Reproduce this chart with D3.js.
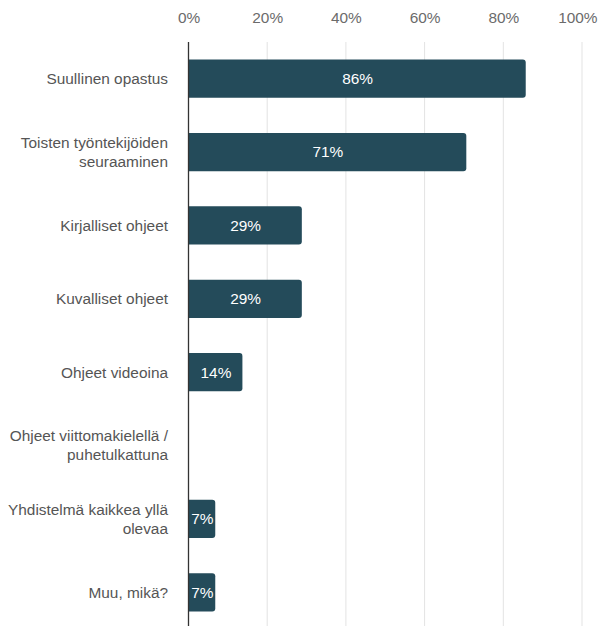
<!DOCTYPE html>
<html><head><meta charset="utf-8">
<script src="https://cdn.jsdelivr.net/npm/d3@7"></script>
<style>
html,body{margin:0;padding:0;background:#fff;}
svg{display:block;font-family:"Liberation Sans",Arial,sans-serif;}
</style></head>
<body>
<svg id="c" width="599" height="626"></svg>
<script>
const categories = ["Suullinen opastus","Toisten työntekijöiden seuraaminen","Kirjalliset ohjeet","Kuvalliset ohjeet","Ohjeet videoina","Ohjeet viittomakielellä / puhetulkattuna","Yhdistelmä kaikkea yllä olevaa","Muu, mikä?"];
const values = [85.7, 70.6, 28.8, 28.8, 13.7, 0, 6.8, 6.8];
const labels = ["86%","71%","29%","29%","14%","","7%","7%"];
const ticks = [0,20,40,60,80,100];

const FS = 15.4;
const W = 599;
const svg = d3.select("#c");
const x = d3.scaleLinear().domain([0,100]).range([188.5,582]);
const y = d3.scaleBand().domain(categories).range([42,629]).paddingInner(0.48).paddingOuter(0.24);

// gridlines
svg.append("g").selectAll("line").data(ticks.slice(1)).join("line")
  .attr("x1",d=>x(d)).attr("x2",d=>x(d)).attr("y1",42).attr("y2",626)
  .attr("stroke","#e3e3e3").attr("stroke-width",1);

// top tick labels
const ax = svg.append("g").attr("transform","translate(0,22.5)")
  .call(d3.axisTop(x).tickValues(ticks).tickFormat(d=>d+"%").tickSize(0).tickPadding(0));
ax.select(".domain").remove();
ax.selectAll("text").attr("font-size",FS).attr("fill","#6b6b6b").attr("font-family","Liberation Sans, Arial, sans-serif");
// keep labels inside the page
ax.selectAll(".tick").each(function(d){
  const t = d3.select(this).select("text");
  const half = t.node().getComputedTextLength()/2;
  const over = x(d)+half-(W-2);
  if (over>0) t.attr("x",-over);
});

// bars with rounded right corners
const r = 3;
function barPath(x0,x1,y0,h){
  const w = x1-x0;
  if (w<=0) return "";
  const rr = Math.min(r,w/2,h/2);
  return `M${x0},${y0}H${x1-rr}Q${x1},${y0} ${x1},${y0+rr}V${y0+h-rr}Q${x1},${y0+h} ${x1-rr},${y0+h}H${x0}Z`;
}
const g = svg.append("g");
g.selectAll("path").data(categories).join("path")
  .attr("d",(d,i)=>barPath(x(0)+0.5,x(values[i]),y(d),y.bandwidth()))
  .attr("fill","#244b5a");

g.selectAll("text").data(categories).join("text")
  .attr("x",(d,i)=>(x(0)+x(values[i]))/2+0.5)
  .attr("y",d=>y(d)+y.bandwidth()/2)
  .attr("dy","0.35em").attr("text-anchor","middle")
  .attr("font-size",FS).attr("fill","#fff")
  .text((d,i)=>labels[i]);

// axis line
svg.append("line").attr("x1",x(0)).attr("x2",x(0)).attr("y1",42).attr("y2",626)
  .attr("stroke","#333").attr("stroke-width",1.3);

// category labels with wrapping
const lab = svg.append("g");
categories.forEach(c=>{
  const t = lab.append("text").attr("text-anchor","end").attr("font-size",FS).attr("fill","#555");
  const words = c.split(" ");
  const lines = [];
  let cur = [];
  const tmp = t.append("tspan");
  words.forEach(w=>{
    const trial = cur.concat([w]).join(" ");
    tmp.text(trial);
    if (tmp.node().getComputedTextLength()>166 && cur.length){ lines.push(cur.join(" ")); cur=[w]; }
    else cur.push(w);
  });
  lines.push(cur.join(" "));
  tmp.remove();
  const lh = 19;
  const cy = y(c)+y.bandwidth()/2;
  lines.forEach((l,i)=>{
    t.append("tspan").attr("x",168).attr("y",cy+(i-(lines.length-1)/2)*lh).attr("dy","0.35em").text(l);
  });
});
</script>
</body></html>
